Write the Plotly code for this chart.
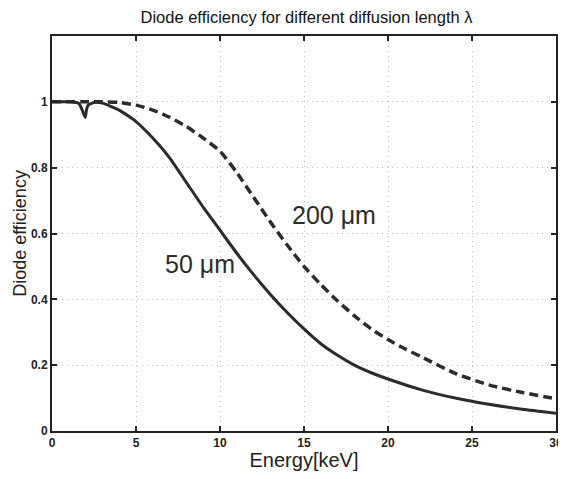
import plotly.graph_objects as go

# 50 um diffusion length (solid)
energy_50 = [0, 1.0, 1.6, 1.8, 1.98, 2.05, 2.15, 2.5, 3, 4, 5, 6, 7, 8, 9, 10, 11, 12, 13, 14, 15, 16, 17, 18, 19, 20, 22, 24, 26, 28, 30]
eff_50 = [1.0, 1.0, 0.995, 0.975, 0.952, 0.975, 0.99, 0.998, 0.996, 0.975, 0.94, 0.89, 0.83, 0.755, 0.68, 0.61, 0.54, 0.475, 0.415, 0.36, 0.31, 0.265, 0.23, 0.2, 0.177, 0.158, 0.125, 0.1, 0.081, 0.066, 0.054]

# 200 um diffusion length (dashed)
energy_200 = [0, 2, 3, 4, 5, 6, 7, 8, 9, 10, 11, 12, 13, 14, 15, 16, 17, 18, 19, 20, 21, 22, 24, 26, 28, 30]
eff_200 = [1.0, 1.0, 1.0, 0.998, 0.99, 0.975, 0.953, 0.925, 0.89, 0.85, 0.785, 0.71, 0.635, 0.565, 0.50, 0.445, 0.395, 0.35, 0.31, 0.278, 0.25, 0.225, 0.175, 0.14, 0.117, 0.098]

x_ticks = [0, 5, 10, 15, 20, 25, 30]
y_ticks = [0, 0.2, 0.4, 0.6, 0.8, 1]
y_tick_labels = ["0", "0.2", "0.4", "0.6", "0.8", "1"]

line_color = "#2b2b2b"
FONT = "Liberation Sans, Arial, Helvetica"

fig = go.Figure()
fig.add_trace(go.Scatter(x=energy_200, y=eff_200, mode="lines",
                         line=dict(color=line_color, width=3.5, dash="9px,5px", shape="spline", smoothing=0.6),
                         showlegend=False))
fig.add_trace(go.Scatter(x=energy_50, y=eff_50, mode="lines",
                         line=dict(color=line_color, width=3, shape="spline", smoothing=0.5),
                         showlegend=False))

fig.add_annotation(x=16.8, y=0.655, text="200 \u03bcm", showarrow=False,
                   font=dict(size=25, color="#2b2b2b", family=FONT))
fig.add_annotation(x=8.83, y=0.507, text="50 \u03bcm", showarrow=False,
                   font=dict(size=25, color="#2b2b2b", family=FONT))

axis_common = dict(showline=True, linecolor="#222", linewidth=2, mirror="ticks",
                   ticks="inside", ticklen=5, tickcolor="#222", tickwidth=1.5,
                   showgrid=True, gridcolor="#b8b8b8", griddash="1px,4px", gridwidth=1.2,
                   zeroline=False, automargin=False, ticklabeloverflow="allow",
                   tickfont=dict(size=12, color="#222", family=FONT, weight="bold"))

fig.update_xaxes(range=[0, 30], tickvals=x_ticks, ticktext=[str(v) for v in x_ticks],
                 title=dict(text="Energy[keV]", font=dict(size=20, color="#222", family=FONT), standoff=4),
                 **axis_common)
fig.update_yaxes(range=[0, 1.2], tickvals=y_ticks, ticktext=y_tick_labels,
                 title=dict(text="Diode efficiency", font=dict(size=18, color="#222", family=FONT), standoff=0),
                 **axis_common)

# page body has an 8px margin, so the figure is sized/offset to compensate
fig.update_layout(
    width=558, height=463,
    margin=dict(l=44, r=10, t=28, b=40),
    paper_bgcolor="white", plot_bgcolor="white",
    title=dict(text="Diode efficiency for different diffusion length \u03bb",
               x=0.535, xanchor="center", y=0.98, yanchor="middle",
               font=dict(size=16.5, color="#111", family=FONT)),
    font=dict(family=FONT, color="#222"),
)

fig.write_html("out.html")
